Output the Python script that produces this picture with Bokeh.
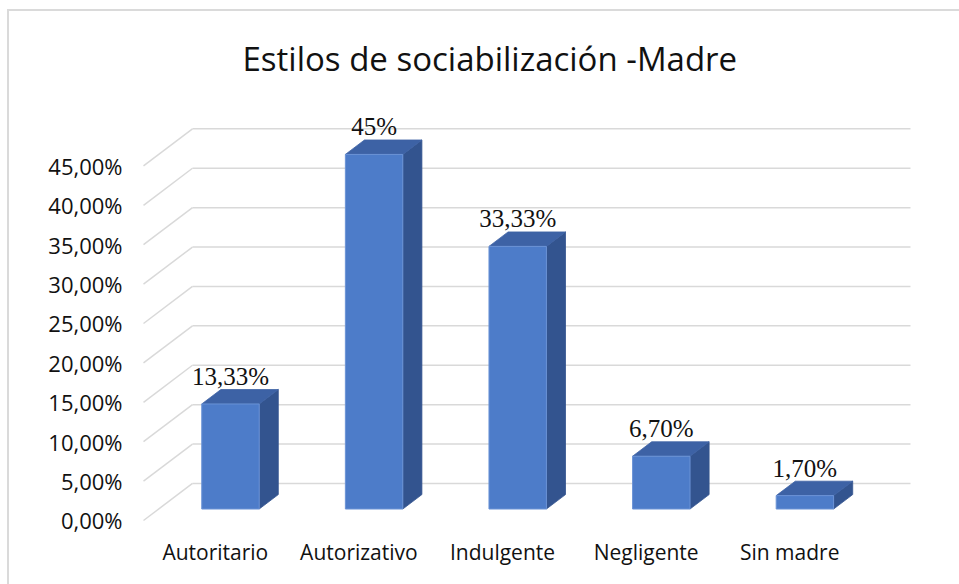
from bokeh.plotting import figure
from bokeh.models import Range1d, FixedTicker, ColumnDataSource
from bokeh.core.properties import value
from bokeh.embed import file_html
from bokeh.resources import INLINE

# ---------------- data ----------------
categories = ["Autoritario", "Autorizativo", "Indulgente", "Negligente", "Sin madre"]
values = [13.33, 45.0, 33.33, 6.70, 1.70]
value_labels = ["13,33%", "45%", "33,33%", "6,70%", "1,70%"]
y_ticks = [0, 5, 10, 15, 20, 25, 30, 35, 40, 45]
y_tick_labels = ["0,00%", "5,00%", "10,00%", "15,00%", "20,00%",
                 "25,00%", "30,00%", "35,00%", "40,00%", "45,00%"]
title_text = "Estilos de sociabilización -Madre"

# ---------------- 3D geometry (in data units) ----------------
DX = 0.341      # floor depth along x (category units)
DY = 4.70       # floor depth along y (percent units)
F0, F1 = 0.31, 0.70   # bar front / back depth fractions
W = 0.40        # bar width (category units)
X0 = -0.5       # left wall front edge
XR = 4.841      # right end of back wall

FRONT = "#4d7cc9"
SIDE = "#33548f"
TOP = "#3d62a5"
GRID = "#d9d9d9"
TEXT = "#111111"

p = figure(width=959, height=584, output_backend="svg", toolbar_location=None,
           x_range=Range1d(-0.5209, 4.855), y_range=Range1d(-0.508, 52.03),
           min_border_left=140, min_border_right=47,
           min_border_bottom=60, min_border_top=110)
p.border_fill_color = None
p.styles = {
    "background-image": "linear-gradient(#dadada, #dadada), linear-gradient(#dadada, #dadada)",
    "background-size": "2px 2000px, 2000px 2px",
    "background-position": "7px 9px, 7px 9px",
    "background-repeat": "no-repeat",
}
p.outline_line_color = None
p.xgrid.visible = False
p.ygrid.visible = False
p.background_fill_color = "white"

p.title.text = title_text
p.title.align = "left"
p.title.offset = 102
p.title.standoff = 59
p.title.text_font = "Open Sans"
p.title.text_font_size = "33px"
p.title.text_font_style = "normal"
p.title.text_color = TEXT

# axes
p.yaxis.ticker = FixedTicker(ticks=y_ticks)
p.yaxis.major_label_overrides = {t: l for t, l in zip(y_ticks, y_tick_labels)}
p.xaxis.ticker = FixedTicker(ticks=list(range(len(categories))))
p.xaxis.major_label_overrides = {i: c for i, c in enumerate(categories)}
for ax in (p.xaxis[0], p.yaxis[0]):
    ax.axis_line_color = None
    ax.major_tick_line_color = None
    ax.minor_tick_line_color = None
    ax.major_tick_out = 0
    ax.major_tick_in = 0
    ax.major_label_text_font = "Open Sans"
    ax.major_label_text_color = TEXT
p.yaxis.major_label_text_font_size = "22px"
p.yaxis.major_label_standoff = 18
p.xaxis.major_label_text_font_size = "21px"
p.xaxis.major_label_standoff = 13

# gridlines: back wall + left wall diagonals
back_xs = [[X0 + DX, XR] for t in y_ticks]
back_ys = [[t + DY, t + DY] for t in y_ticks]
wall_xs = [[X0, X0 + DX] for t in y_ticks]
wall_ys = [[t, t + DY] for t in y_ticks]
p.multi_line(xs=back_xs + wall_xs, ys=back_ys + wall_ys,
             line_color=GRID, line_width=1.5)

# bars
dd = F1 - F0
front_xs, front_ys, side_xs, side_ys, top_xs, top_ys = [], [], [], [], [], []
for i, v in enumerate(values):
    cx = i + F0 * DX
    xl, xr = cx - W / 2, cx + W / 2
    yb = F0 * DY
    yt = v + F0 * DY
    ox, oy = dd * DX, dd * DY
    front_xs.append([xl, xr, xr, xl])
    front_ys.append([yb, yb, yt, yt])
    side_xs.append([xr, xr + ox, xr + ox, xr])
    side_ys.append([yb, yb + oy, yt + oy, yt])
    top_xs.append([xl, xr, xr + ox, xl + ox])
    top_ys.append([yt, yt, yt + oy, yt + oy])

p.patches(xs=side_xs, ys=side_ys, fill_color=SIDE, line_color=SIDE, line_width=0.8)
p.patches(xs=top_xs, ys=top_ys, fill_color=TOP, line_color=TOP, line_width=0.8)
p.patches(xs=front_xs, ys=front_ys, fill_color=FRONT, line_color="#6b93d6", line_width=1)

# value labels
lab_src = ColumnDataSource(dict(
    x=[i + F0 * DX for i in range(len(values))],
    y=[v + F1 * DY for v in values],
    t=value_labels))
p.text(x="x", y="y", text="t", source=lab_src, text_align="center",
       text_baseline="alphabetic", y_offset=-13,
       text_font=value("Liberation Serif"), text_font_size="25px", text_color=TEXT)

open("out.html", "w").write(file_html(p, INLINE))
